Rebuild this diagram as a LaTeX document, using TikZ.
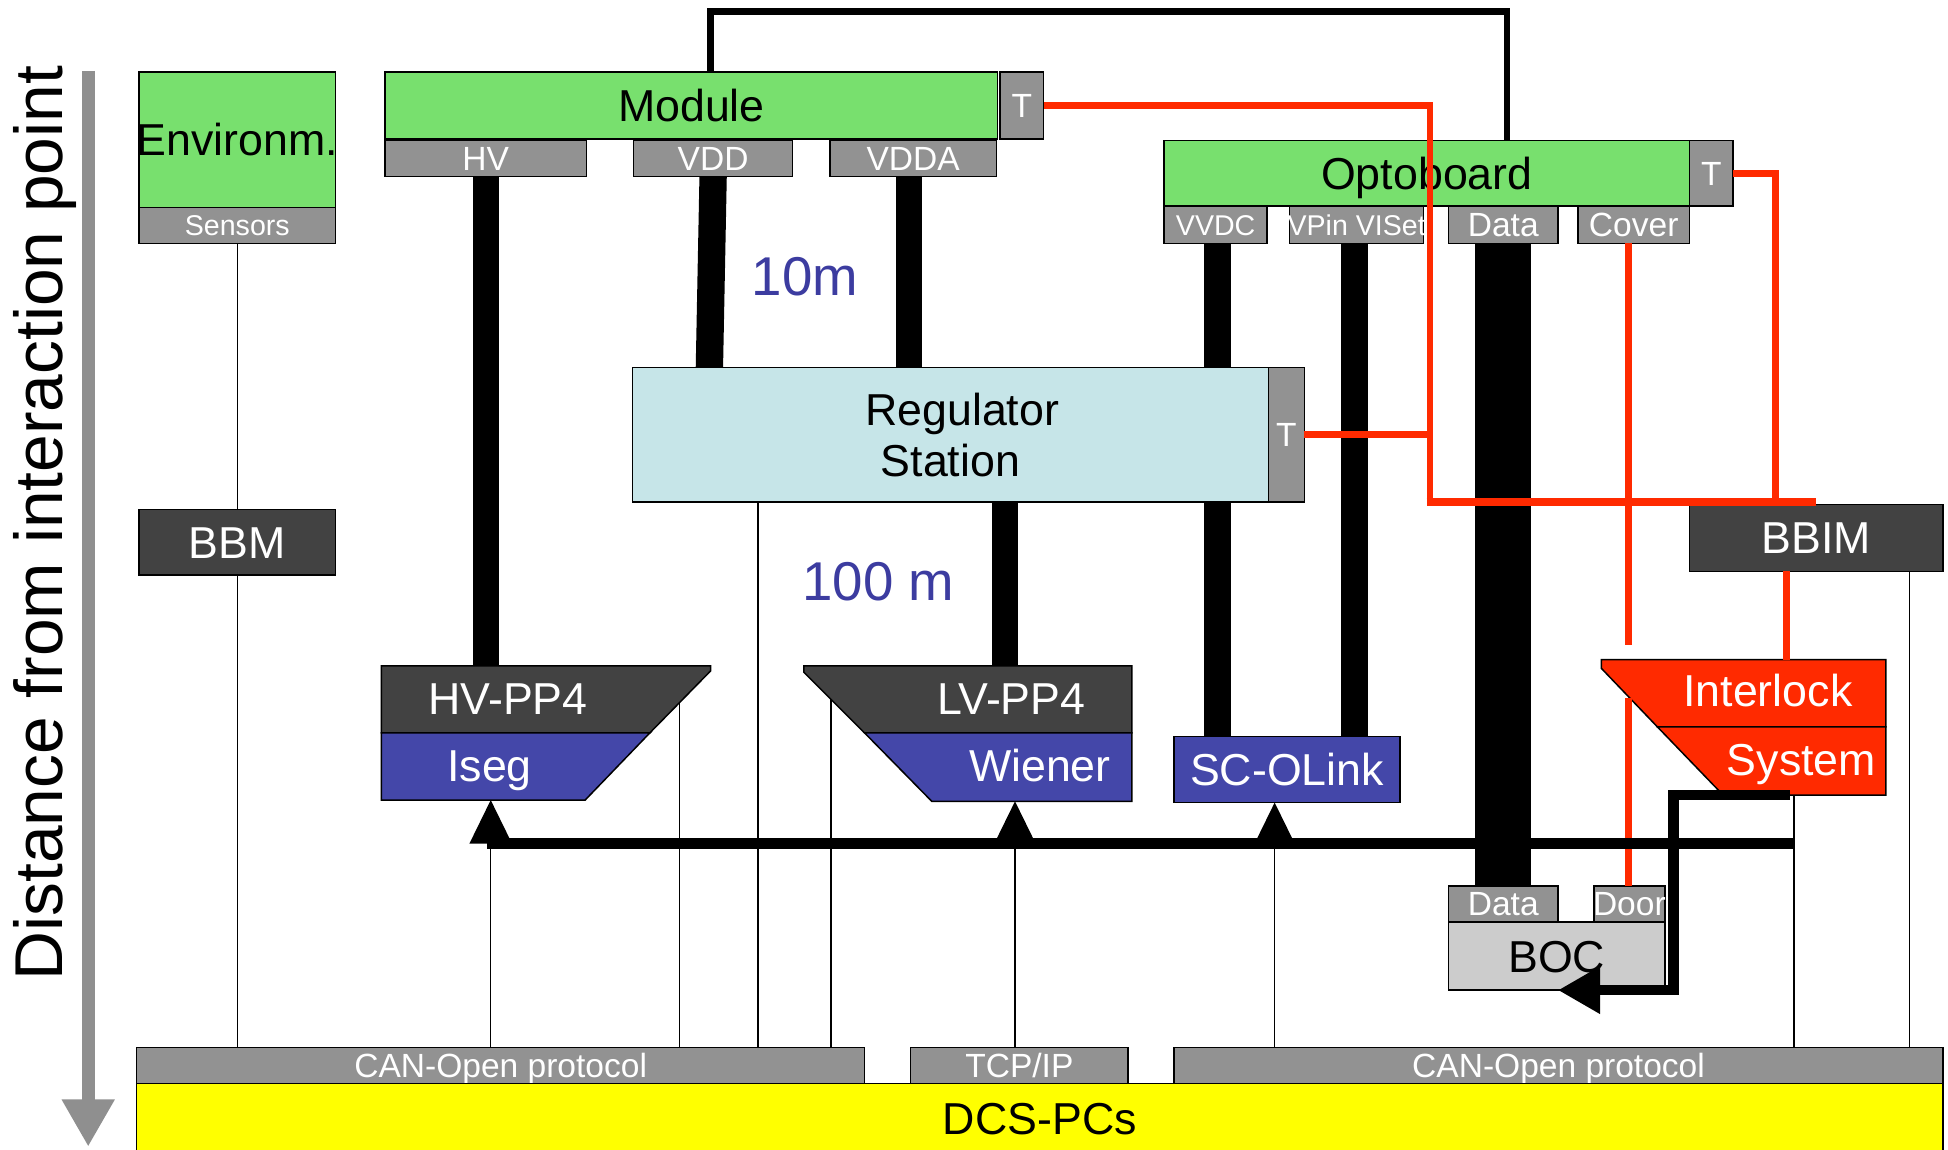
\documentclass[tikz,border=0pt]{standalone}
\usepackage{fontspec}
\setmainfont{Liberation Sans}
\usetikzlibrary{arrows.meta}
\pgfdeclarelayer{background}
\pgfsetlayers{background,main}

\definecolor{boxgreen}{HTML}{78E06E}
\definecolor{tabgray}{HTML}{929292}
\definecolor{darkbox}{HTML}{424242}
\definecolor{psublue}{HTML}{4447A9}
\definecolor{regcyan}{HTML}{C6E5E8}
\definecolor{ilockred}{HTML}{FF2A00}
\definecolor{bocgray}{HTML}{CCCCCC}
\definecolor{pcyellow}{HTML}{FFFF00}
\definecolor{lenblue}{HTML}{3C3CA0}
\definecolor{axisgray}{HTML}{8F8F8F}

\begin{document}
\begin{tikzpicture}[x=1pt,y=-1pt,
  box/.style={draw=black, line width=1.2pt, inner sep=0pt, outer sep=0pt, anchor=north west},
  tab/.style={box, fill=tabgray, text=white},
  t36/.style={font=\fontsize{36}{40}\selectfont, text height=25.8pt, text depth=0pt},
  t27/.style={font=\fontsize{27}{30}\selectfont, text height=19.4pt, text depth=0pt},
  t25/.style={font=\fontsize{27}{30}\selectfont, text height=19.4pt, text depth=0pt},
  t23/.style={font=\fontsize{23}{26}\selectfont, text height=16.5pt, text depth=0pt},
  t44/.style={font=\fontsize{44}{48}\selectfont, text height=31.5pt, text depth=0pt},
  lbl/.style={inner sep=0pt, outer sep=0pt},
  shape edge/.style={draw=black, line width=1.2pt, line join=miter},
  signal/.style={line width=1.2pt},
  cable/.style={line width=21pt},
  bus/.style={line width=9pt},
  redline/.style={draw=ilockred, line width=5.5pt},
  uparrow/.style={signal, -{Triangle[length=35pt,width=34pt]}},
]
\useasboundingbox (0,0) rectangle (1568,925);

% ---------- distance axis ----------
\draw[axisgray, line width=10.5pt, -{Triangle[length=38pt,width=40pt]}] (71,57) -- (71,923);
\node[lbl, rotate=90, font=\fontsize{54.5}{60}\selectfont] (axis) at (36,421) {Distance from interaction point};

% ---------- detector side ----------
\node[box, fill=boxgreen, minimum width=158pt, minimum height=109pt, t36] (env) at (112,58) {\makebox[0pt]{Environm.}};
\node[tab, minimum width=158pt, minimum height=29pt, t23] (sens) at (112,167) {Sensors};

\node[box, fill=boxgreen, minimum width=493pt, minimum height=54pt, t36] (module) at (310,58) {Module};
\node[tab, minimum width=35pt, minimum height=54pt, t27] (modT) at (805,58) {T};
\node[tab, minimum width=162pt, minimum height=29pt, t27] (hv) at (310,113) {HV};
\node[tab, minimum width=128pt, minimum height=29pt, t27] (vdd) at (510,113) {VDD};
\node[tab, minimum width=134pt, minimum height=29pt, t27] (vdda) at (668,113) {VDDA};

\node[box, fill=boxgreen, minimum width=423pt, minimum height=53pt, t36] (opto) at (937,113) {Optoboard};
\node[tab, minimum width=35pt, minimum height=53pt, t27] (optoT) at (1360,113) {T};
\node[tab, minimum width=83pt, minimum height=30pt, t23] (vvdc) at (937,166) {VVDC};
\node[tab, minimum width=108pt, minimum height=30pt, t23] (vpin) at (1038,166) {\makebox[0pt]{VPin VISet}};
\node[tab, minimum width=88pt, minimum height=30pt, t27] (odata) at (1166,166) {Data};
\node[tab, minimum width=90pt, minimum height=30pt, t27] (cover) at (1270,166) {Cover};

\node[box, fill=regcyan, minimum width=512pt, minimum height=108pt, font=\fontsize{36}{41}\selectfont, align=center] (reg) at (509,296) {\hspace*{19pt}Regulator\\Station};
\node[tab, minimum width=29pt, minimum height=108pt, t27] (regT) at (1021,296) {T};

\node[box, fill=darkbox, text=white, minimum width=158pt, minimum height=53pt, t36] (bbm) at (112,410) {BBM};
\node[box, fill=darkbox, text=white, minimum width=204pt, minimum height=54pt, t36] (bbim) at (1360,406) {BBIM};

% ---------- patch panels and interlock ----------
\coordinate (hvA) at (307,536); \coordinate (hvB) at (572,536); \coordinate (hvC) at (572,540);
\coordinate (hvD) at (523,590); \coordinate (hvE) at (307,590); \coordinate (hvF) at (471,644);
\coordinate (hvG) at (307,644);
\filldraw[shape edge, fill=darkbox] (hvA) -- (hvB) -- (hvC) -- (hvD) -- (hvE) -- cycle;
\filldraw[shape edge, fill=psublue] (hvE) -- (hvD) -- (hvF) -- (hvG) -- cycle;
\node[lbl, t36, text=white] (hvpp4) at (409,562) {HV-PP4};
\node[lbl, t36, text=white] (iseg) at (394,616) {Iseg};

\coordinate (lvA) at (647,536); \coordinate (lvB) at (911,536); \coordinate (lvC) at (911,590);
\coordinate (lvD) at (696,590); \coordinate (lvE) at (647,541); \coordinate (lvF) at (911,645);
\coordinate (lvG) at (750,645);
\filldraw[shape edge, fill=darkbox] (lvA) -- (lvB) -- (lvC) -- (lvD) -- (lvE) -- cycle;
\filldraw[shape edge, fill=psublue] (lvD) -- (lvC) -- (lvF) -- (lvG) -- cycle;
\node[lbl, t36, text=white] (lvpp4) at (814,562) {LV-PP4};
\node[lbl, t36, text=white] (wiener) at (837,616) {Wiener};

\node[box, fill=psublue, text=white, minimum width=182pt, minimum height=53pt, t36] (sco) at (945,593) {SC-OLink};

\coordinate (ilA) at (1289,531); \coordinate (ilB) at (1518,531); \coordinate (ilC) at (1518,585);
\coordinate (ilD) at (1334,585); \coordinate (ilE) at (1289,538); \coordinate (ilF) at (1518,640);
\coordinate (ilG) at (1387,640);
\filldraw[shape edge, fill=ilockred] (ilA) -- (ilB) -- (ilC) -- (ilD) -- (ilE) -- cycle;
\filldraw[shape edge, fill=ilockred] (ilD) -- (ilC) -- (ilF) -- (ilG) -- cycle;
\node[lbl, t36, text=white] (ilock) at (1423,556) {Interlock};
\node[lbl, t36, text=white] (ilsys) at (1450,611) {System};

\node[tab, minimum width=88pt, minimum height=29pt, t27] (bdata) at (1166,713) {Data};
\node[tab, minimum width=57pt, minimum height=29pt, t27] (door) at (1283,713) {\makebox[0pt]{Door}};
\node[box, fill=bocgray, minimum width=174pt, minimum height=55pt, t36] (boc) at (1166,742) {BOC};

% ---------- counting room ----------
\node[tab, minimum width=586pt, minimum height=29pt, t25] (can1) at (110,843) {CAN-Open protocol};
\node[tab, minimum width=175pt, minimum height=29pt, t27] (tcp) at (733,843) {TCP/IP};
\node[tab, minimum width=619pt, minimum height=29pt, t25] (can2) at (945,843) {CAN-Open protocol};
\node[box, fill=pcyellow, minimum width=1454pt, minimum height=56pt, t36] (dcs) at (110,872) {DCS-PCs};

% cable lengths
\node[lbl, t44, text=lenblue] (len10) at (648,222) {10m};
\node[lbl, t44, text=lenblue] (len100) at (707,468) {100 m};

% ---------- cables and readout lines behind the boxes ----------
\begin{pgfonlayer}{background}
  \draw[signal] (sens.south) -- (sens.south |- can1.north);
  \draw[signal] (547,560) -- (547,0 |- can1.north);
  \draw[signal] (610,0 |- reg.south) -- (610,0 |- can1.north);
  \draw[signal] (669,560) -- (669,0 |- can1.north);
  \draw[signal] (1444,0 |- ilF) -- (1444,0 |- can2.north);
  \draw[signal] (1537,0 |- bbim.south) -- (1537,0 |- can2.north);

  \draw[cable] (391,0 |- hv.south) -- (391,0 |- hvA);
  \draw[cable, line width=22pt] (574,0 |- vdd.south) -- (571,0 |- reg.north);
  \draw[cable] (732,0 |- vdda.south) -- (732,0 |- reg.north);
  \draw[cable] (809,0 |- reg.south) -- (809,0 |- lvA);
  \draw[cable, line width=22pt] (980,0 |- vvdc.south) -- (980,0 |- sco.north);
  \draw[cable, line width=22pt] (1090,0 |- vpin.south) -- (1090,0 |- sco.north);
  \draw[cable, line width=45pt] (1210,0 |- odata.south) -- (1210,0 |- bdata.north);

  \draw[line width=5.5pt, line join=miter] (572,0 |- module.north) |- (1213,9.5) -- (1213,0 |- opto.north);
\end{pgfonlayer}

% ---------- interlock (temperature) lines ----------
\draw[redline] (modT.east) -| (1151,404);
\draw[redline] (regT.east) -- (1151,0 |- regT.east);
\draw[redline] (optoT.east) -| (1429,404);
\draw[redline, line width=7pt] (1148.25,404) -- ([yshift=2pt]bbim.north);
\draw[redline] (1438,0 |- bbim.south) -- (1438,0 |- ilA);
\draw[redline] (1311,0 |- cover.south) -- (1311,519);
\draw[redline] (1311,562) -- (1311,0 |- door.north);

% ---------- control bus ----------
\draw[bus] (392,679) -- (1444,679);
\draw[uparrow] (395,0 |- can1.north) -- (395,0 |- hvG);
\draw[uparrow] (817,0 |- tcp.north) -- (817,0 |- lvF);
\draw[uparrow] (1026,0 |- can2.north) -- (1026,0 |- sco.south);

% interlock signal to the BOC
\draw[line width=8.5pt, line join=miter, -{Triangle[length=34pt,width=36pt]}]
  (1441,0 |- ilF) -- (1347,0 |- ilF) -- (1347,0 |- boc.south) -- (1254,0 |- boc.south);
\end{tikzpicture}
\end{document}
